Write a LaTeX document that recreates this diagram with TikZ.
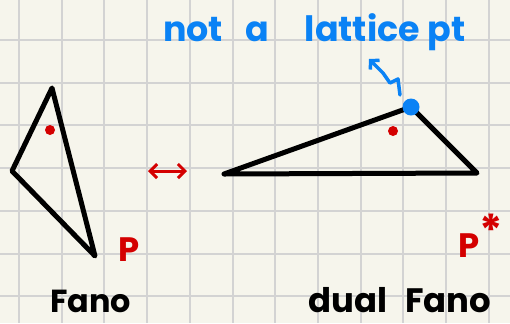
\documentclass[tikz,border=0pt]{standalone}
\usepackage{fontspec}
\setmainfont{Poppins}
\usetikzlibrary{arrows.meta}
\definecolor{paper}{HTML}{F6F5EC}
\definecolor{gridc}{HTML}{D3D3D3}
\definecolor{redink}{HTML}{D40000}
\definecolor{blueink}{HTML}{0A82F5}
\tikzset{
  gridline/.style={draw=gridc, line width=2bp},
  tri/.style={draw=black, line width=5bp, line join=round, line cap=round},
  reddot/.style={circle, fill=redink, inner sep=0pt, minimum size=10bp},
  bluedot/.style={circle, fill=blueink, inner sep=0pt, minimum size=17bp},
  hand/.style={inner sep=0pt, anchor=base west},
  bluetext/.style={hand, text=blueink, font=\bfseries\fontsize{35}{38}\selectfont},
  blacktext/.style={hand, text=black, font=\bfseries\fontsize{32}{36}\selectfont},
  widetext/.style={hand, text=black, font=\bfseries\fontsize{34}{36}\selectfont},
  redtext/.style={hand, text=redink, font=\bfseries\fontsize{34}{36}\selectfont},
  redarrow/.style={draw=redink, line width=3bp, line cap=round,
    {Straight Barb[length=7bp,width=14bp]}-{Straight Barb[length=7bp,width=14bp]}},
  bluearrow/.style={draw=blueink, line width=3.5bp, line cap=round, line join=round,
    -{Straight Barb[length=6bp,width=13bp]}}
}
\begin{document}
\begin{tikzpicture}[x=1bp,y=-1bp]
\fill[paper] (0,0) rectangle (510,323);
\useasboundingbox (0,0) rectangle (510,323);
\foreach \i in {0,...,11} \draw[gridline] ({19+42.7*\i},0) -- ({19+42.7*\i},323);
\foreach \j in {0,...,7} \draw[gridline] (0,{-2.7+42.7*\j}) -- (510,{-2.7+42.7*\j});

% left triangle (Fano)
\coordinate (a1) at (52,88);
\coordinate (a2) at (12,171);
\coordinate (a3) at (95,256);
\draw[tri] (a1) -- (a2) -- (a3) -- cycle;
\node[reddot] (o1) at (50,130) {};

% right triangle (dual Fano)
\coordinate (b1) at (224,174);
\coordinate (b2) at (411,107);
\coordinate (b3) at (477,173);
\draw[tri] (b1) -- (b2) -- (b3) -- cycle;
\node[reddot] (o2) at (393,131) {};
\node[bluedot] (v) at (411,107) {};

% double arrow
\coordinate (l) at (148,171);
\coordinate (r) at (187,171);
\draw[redarrow] (l) -- (r);

% blue squiggle arrow
\coordinate (s0) at (400,95);
\coordinate (s1) at (369,59);
\draw[bluearrow] (s0) -- (398,79) -- (390,83) -- (383,73) -- (s1);

% texts
\node[bluetext] (lab) at (163,41) {not\hspace{22bp}a\hspace{36bp}lattice\hspace{8bp}pt};
\node[redtext] (p) at (118,261) {P};
\node[redtext] (ps) at (458,257) {P\raisebox{0.3em}{\fontsize{44}{44}\selectfont*}};
\node[blacktext] (fano) at (50,312) {Fano};
\node[widetext] (dfano) at (308,312) {dual\hspace{18bp}Fano};
\end{tikzpicture}
\end{document}
